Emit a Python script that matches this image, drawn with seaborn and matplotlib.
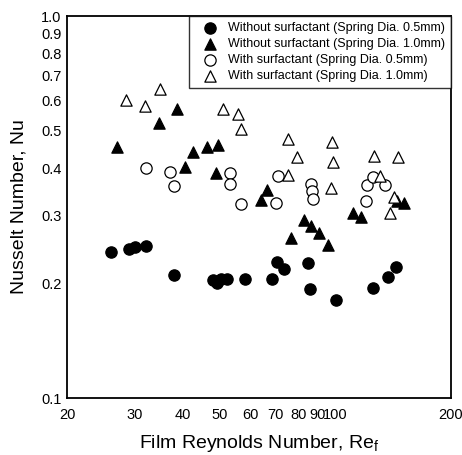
import matplotlib
matplotlib.use("Agg")
import matplotlib.pyplot as plt
import seaborn as sns
import pandas as pd
from matplotlib.ticker import FixedLocator, FixedFormatter, NullLocator

sns.set_style("white")
plt.rcParams['font.family'] = ['Liberation Sans', 'DejaVu Sans']
plt.rcParams['mathtext.fontset'] = 'custom'
plt.rcParams['mathtext.rm'] = 'Liberation Sans'
plt.rcParams['mathtext.it'] = 'Liberation Sans'
plt.rcParams['text.color'] = 'black'
plt.rcParams['axes.labelcolor'] = 'black'
plt.rcParams['xtick.color'] = 'black'
plt.rcParams['ytick.color'] = 'black'

# Without surfactant, spring dia 0.5 mm (filled circles)
re_wo05 = [26.0, 29.0, 30.1, 32.2, 38.0, 48.1, 49.3, 50.5, 52.3, 58.3, 68.2, 70.3, 73.3, 85.1, 85.7, 100.2, 125.1, 136.9, 143.7]
nu_wo05 = [0.241, 0.2455, 0.248, 0.250, 0.210, 0.204, 0.200, 0.205, 0.205, 0.205, 0.205, 0.227, 0.218, 0.226, 0.193, 0.181, 0.194, 0.207, 0.220]

# Without surfactant, spring dia 1.0 mm (filled triangles)
re_wo10 = [27.0, 34.8, 38.7, 40.7, 42.7, 46.4, 49.6, 49.0, 64.2, 66.2, 76.4, 82.6, 86.2, 90.4, 95.5, 110.9, 116.4, 144.5, 150.8]
nu_wo10 = [0.454, 0.525, 0.571, 0.402, 0.441, 0.454, 0.460, 0.388, 0.330, 0.350, 0.262, 0.292, 0.282, 0.270, 0.2515, 0.305, 0.298, 0.328, 0.324]

# With surfactant, spring dia 0.5 mm (open circles)
re_w05 = [32.2, 37.2, 38.0, 53.3, 53.0, 56.9, 69.9, 70.7, 86.2, 86.7, 87.2, 120.0, 120.7, 125.1, 134.5]
nu_w05 = [0.400, 0.390, 0.359, 0.388, 0.363, 0.322, 0.324, 0.381, 0.363, 0.348, 0.332, 0.328, 0.361, 0.379, 0.361]

# With surfactant, spring dia 1.0 mm (open triangles)
re_w10 = [28.5, 32.0, 35.0, 51.1, 55.9, 56.9, 75.1, 79.2, 75.1, 97.8, 98.4, 97.2, 125.9, 145.4, 130.5, 142.0, 138.6]
nu_w10 = [0.603, 0.581, 0.644, 0.571, 0.554, 0.506, 0.477, 0.4275, 0.384, 0.468, 0.415, 0.355, 0.430, 0.4275, 0.381, 0.336, 0.305]

labels = ["Without surfactant (Spring Dia. 0.5mm)",
          "Without surfactant (Spring Dia. 1.0mm)",
          "With surfactant (Spring Dia. 0.5mm)",
          "With surfactant (Spring Dia. 1.0mm)"]

x_ticks = [20, 30, 40, 50, 60, 70, 80, 90, 100, 200]
x_ticklabels = ["20", "30", "40", "50", "60", "70", "80", "90", "100", "200"]
y_ticks = [0.1, 0.2, 0.3, 0.4, 0.5, 0.6, 0.7, 0.8, 0.9, 1.0]
y_ticklabels = ["0.1", "0.2", "0.3", "0.4", "0.5", "0.6", "0.7", "0.8", "0.9", "1.0"]

fig = plt.figure(figsize=(4.62, 4.55), dpi=100)
ax = fig.add_axes([67/462, 1-398/455, (451-67)/462, (398-16)/455])

series = [
    (re_wo05, nu_wo05, labels[0], 'o', 'black'),
    (re_wo10, nu_wo10, labels[1], '^', 'black'),
    (re_w05, nu_w05, labels[2], 'o', 'white'),
    (re_w10, nu_w10, labels[3], '^', 'white'),
]
for xs, ys, lab, mk, fc in series:
    df = pd.DataFrame({"Re": xs, "Nu": ys})
    sns.scatterplot(data=df, x="Re", y="Nu", ax=ax, marker=mk, s=66,
                    facecolor=fc, edgecolor='black', linewidth=0.9, label=lab)

ax.set_xscale('log')
ax.set_yscale('log')
ax.set_xlim(20, 200)
ax.set_ylim(0.1, 1.0)
ax.xaxis.set_major_locator(FixedLocator(x_ticks))
ax.xaxis.set_major_formatter(FixedFormatter(x_ticklabels))
ax.xaxis.set_minor_locator(NullLocator())
ax.yaxis.set_major_locator(FixedLocator(y_ticks))
ax.yaxis.set_major_formatter(FixedFormatter(y_ticklabels))
ax.yaxis.set_minor_locator(NullLocator())
ax.tick_params(axis='both', direction='in', length=5, width=1, labelsize=10.5,
               colors='black', pad=4)
ax.tick_params(axis='x', pad=7)
for sp in ax.spines.values():
    sp.set_visible(True)
    sp.set_color('black')
    sp.set_linewidth(1.3)

ax.set_xlabel("Film Reynolds Number, Re$_\\mathrm{f}$", fontsize=14, labelpad=8)
ax.set_ylabel("Nusselt Number, Nu", fontsize=14, labelpad=10)

leg = ax.legend(loc='upper right', fontsize=9, frameon=True, fancybox=False,
                borderaxespad=0, handletextpad=0.2, labelspacing=0.31,
                borderpad=0.5, handlelength=2.4)
leg.get_frame().set_edgecolor('black')
leg.get_frame().set_linewidth(1.0)

fig.savefig("out.png", dpi=100)
